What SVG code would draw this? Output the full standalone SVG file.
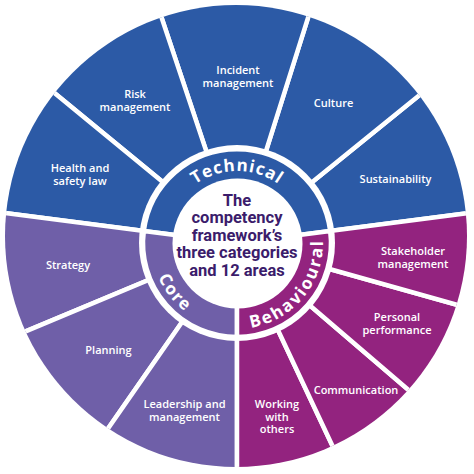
<svg xmlns="http://www.w3.org/2000/svg" width="474" height="474" viewBox="0 0 474 474">
<style>
.t{fill:#2c5aa6}
.c{fill:#6f5fa8}
.b{fill:#93237f}
.seg{stroke:#fff;stroke-width:4.5;stroke-linejoin:miter}
.lbl{font-family:"Open Sans","Liberation Sans",sans-serif;font-weight:600;font-size:11px;fill:#fff;text-anchor:middle}
.cat{font-family:"Open Sans","Liberation Sans",sans-serif;font-weight:700;font-size:17px;fill:#fff}
.mid{font-family:Roboto,"Liberation Sans",sans-serif;font-weight:700;font-size:16.5px;fill:#3b1c6b;text-anchor:middle}
</style>
<defs>
<clipPath id="outer"><circle cx="236" cy="236" r="231"/></clipPath>
<path id="pT" d="M174.65,207 A72,72 0 0 1 299.35,207"/>
<path id="pC" d="M151,243 A86,86 0 0 0 217.65,326.8"/>
<path id="pB" d="M229.5,328.7 A86,86 0 0 0 319.2,217.9"/>
</defs>
<g id="segments">
<g id="sustainability"><path class="t seg" clip-path="url(#outer)" d="M237,243 L534.5,204.4 A300,300 0 0 0 470.1,54.2 Z"/><text class="lbl" x="395.5" y="183">Sustainability</text></g>
<g id="culture"><path class="t seg" clip-path="url(#outer)" d="M237,243 L470.1,54.2 A300,300 0 0 0 327.2,-43.1 Z"/><text class="lbl" x="333.5" y="107">Culture</text></g>
<g id="incident-management"><path class="t seg" clip-path="url(#outer)" d="M237,243 L327.2,-43.1 A300,300 0 0 0 141.8,-41.5 Z"/><text class="lbl" x="238" y="74">Incident<tspan x="238" y="87">management</tspan></text></g>
<g id="risk-management"><path class="t seg" clip-path="url(#outer)" d="M237,243 L141.8,-41.5 A300,300 0 0 0 5.2,52.5 Z"/><text class="lbl" x="135" y="97.5">Risk<tspan x="135" y="110.5">management</tspan></text></g>
<g id="health-and-safety-law"><path class="t seg" clip-path="url(#outer)" d="M237,243 L5.2,52.5 A300,300 0 0 0 -60.5,204.4 Z"/><text class="lbl" x="80" y="172">Health and<tspan x="80" y="185">safety law</tspan></text></g>
<g id="strategy"><path class="c seg" clip-path="url(#outer)" d="M237,243 L-60.5,204.4 A300,300 0 0 0 -39.8,358.8 Z"/><text class="lbl" x="68" y="269">Strategy</text></g>
<g id="planning"><path class="c seg" clip-path="url(#outer)" d="M237,243 L-39.8,358.8 A300,300 0 0 0 65.8,489.3 Z"/><text class="lbl" x="108.5" y="354">Planning</text></g>
<g id="leadership-and-management"><path class="c seg" clip-path="url(#outer)" d="M237,243 L65.8,489.3 A300,300 0 0 0 237,543 Z"/><text class="lbl" x="184.5" y="408">Leadership and<tspan x="184.5" y="421">management</tspan></text></g>
<g id="working-with-others"><path class="b seg" clip-path="url(#outer)" d="M237,243 L237,543 A300,300 0 0 0 364.7,514.4 Z"/><text class="lbl" x="277" y="408">Working<tspan x="277" y="420.5">with</tspan><tspan x="277" y="433">others</tspan></text></g>
<g id="communication"><path class="b seg" clip-path="url(#outer)" d="M237,243 L364.7,514.4 A300,300 0 0 0 464.8,438.2 Z"/><text class="lbl" x="356" y="394">Communication</text></g>
<g id="personal-performance"><path class="b seg" clip-path="url(#outer)" d="M237,243 L464.8,438.2 A300,300 0 0 0 525.8,324.2 Z"/><text class="lbl" x="397" y="321">Personal<tspan x="397" y="334">performance</tspan></text></g>
<g id="stakeholder-management"><path class="b seg" clip-path="url(#outer)" d="M237,243 L525.8,324.2 A300,300 0 0 0 534.5,204.4 Z"/><text class="lbl" x="413" y="255">Stakeholder<tspan x="413" y="268">management</tspan></text></g>
</g>
<circle cx="237" cy="243" r="98" fill="#fff"/>
<g id="categories">
<g id="technical"><path class="t seg" d="M237,243 L330.2,230.9 A94,94 0 0 0 143.8,230.9 Z"/><text class="cat" letter-spacing="1"><textPath href="#pT" startOffset="50%" text-anchor="middle">Technical</textPath></text></g>
<g id="core"><path class="c seg" d="M237,243 L143.8,230.9 A94,94 0 0 0 237,337 Z"/><text class="cat" letter-spacing="1.5"><textPath href="#pC" startOffset="50%" text-anchor="middle">Core</textPath></text></g>
<g id="behavioural"><path class="b seg" d="M237,243 L237,337 A94,94 0 0 0 330.2,230.9 Z"/><text class="cat" letter-spacing="2"><textPath href="#pB" startOffset="50%" text-anchor="middle">Behavioural</textPath></text></g>
</g>
<g id="centre">
<circle cx="237.5" cy="243.5" r="65" fill="#fff"/>
<text class="mid" x="237" y="205.5">The<tspan x="237" y="223">competency</tspan><tspan x="237" y="240.5">framework’s</tspan><tspan x="237" y="258">three categories</tspan><tspan x="237" y="275.5">and 12 areas</tspan></text>
</g>
</svg>
